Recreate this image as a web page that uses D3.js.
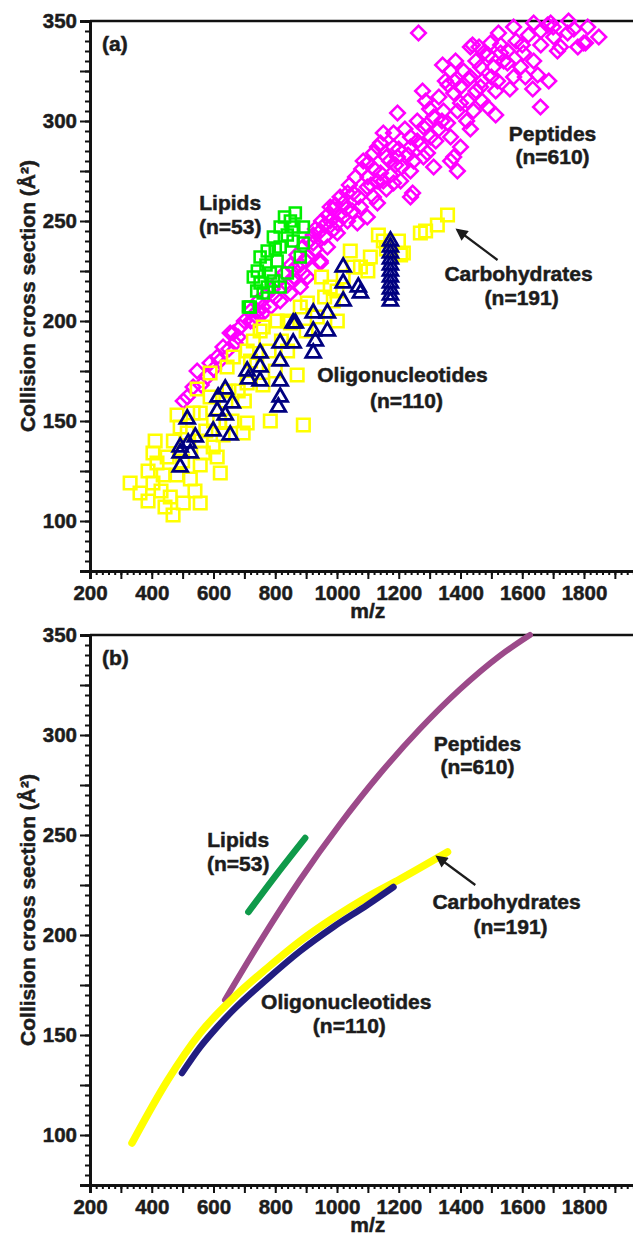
<!DOCTYPE html>
<html>
<head>
<meta charset="utf-8">
<script src="https://cdn.jsdelivr.net/npm/d3@7"></script>
<style>
  body { margin: 0; background: #fff; }
  svg { display: block; }
  text { font-family: "Liberation Sans", Arial, sans-serif; font-weight: bold; fill: #1c1c1c;
         stroke: #1c1c1c; stroke-width: 0.5px; }
</style>
</head>
<body>
<svg id="chart" width="633" height="1236"></svg>
<script>
// ---- panel (a) scatter data: [m/z, CCS] ----
const peptides = [
  [1264,344],[1432,337],[1342,328],[1384,330],[1368,325],[1351,320],[1277,315],[1287,310],[1196,304],[1659,307],
  [1634,316],[1686,320],[1650,323],[1523,344],[1572,347],[1637,349],[1692,349],[1750,350],[1812,347],[1848,342],
  [1799,339],[1724,337],[1702,342],[1747,344],[1497,339],[1552,335],[1604,334],[1637,330],[1475,334],[1465,327],
  [1507,327],[1552,329],[1595,327],[1520,320],[1572,322],[1432,322],[1400,317],[1465,317],[1514,315],[1423,310],
  [1378,314],[1345,305],[1400,309],[1442,305],[1488,307],[1514,303],[1313,302],[1280,297],[1358,299],[1432,296],
  [1238,292],[1303,292],[1368,292],[1150,294],[1183,287],[1400,287],[1293,284],[1368,280],[1248,280],
  [1085,280],[1183,294],[1131,287],[1196,282],[1238,287],[1280,282],[1313,277],[1378,282],[1390,275],[1238,275],
  [1206,270],[1150,270],[1098,267],[1053,264],[1118,262],[1245,264],[1173,273],[1020,259],[988,256],[1076,257],
  [978,250],[946,245],[1034,250],[1001,244],[923,239],[969,237],[904,232],[946,229],[904,222],[881,217],
  [1141,274],[1183,269],[1238,262],[1034,264],[978,257],[1001,249],[1066,249],[1098,252],[1131,259],[923,243],
  [946,230],[891,224],[858,220],[849,214],[816,210],[784,207],[761,204],[729,200],[687,197],[654,194],
  [1118,284],[1141,289],[742,205],[664,194],[631,187],[612,182],[589,179],[547,175],[534,167],[515,162],[502,160],
  [700,200],[720,205],[745,210],[770,213],[790,216],[810,220],[830,224],[850,228],[870,233],[890,237],
  [910,240],[930,246],[950,250],[970,253],[995,258],[1010,262],[1040,268],[1060,272],[1080,276],[1100,279],
  [1120,276],[1160,282],[1200,286],[1220,296],[1260,300],[1300,306],[1330,312],[1360,318],[1410,325],[1450,330],
  [1490,333],[1530,338],[1580,340],[1620,343],[1660,345],[1700,347],[1540,330],[1470,320],[1330,296],[1260,290],
  [1190,278],[1110,268],[1050,255],[990,246],[930,236],[880,228],[840,218],[800,212],[760,207],[720,200],
  [680,192],[650,186],[620,180],[580,172],[560,168],[600,176],[670,189],[740,202],[860,226],[960,242],
  [1030,256],[1130,270],[1230,283],[1320,290],[1420,300],[1470,310],[1560,316],[1610,322],[1682,348],[1767,346],
  [1714,335],[1530,334],[1439,338],[1426,321],[1805,339],
  [1020,252],[1070,262],[1170,280],[1210,277],[1270,288],[1340,300],[1390,305],[1450,315],[1500,322],[1600,338],
  [960,248],[900,230],[860,222],[1100,272],[1160,266],[1290,298],[1380,320],[1460,337],[1660,338],[1780,337]
];
const carbohydrates = [
  [330,119],[362,114],[388,110],[404,119],[460,112],[469,103],[502,109],[557,109],[443,107],[411,140],
  [450,132],[417,129],[404,134],[388,125],[437,123],[482,123],[525,121],[557,128],[622,124],[599,137],
  [612,132],[567,134],[482,153],[492,147],[557,154],[547,166],[589,174],[644,177],[589,162],[709,149],
  [784,150],[891,148],[871,173],[709,169],[751,195],[709,185],[664,182],[806,200],[849,199],[881,207],
  [515,144],[534,154],[631,143],[696,144],[1134,243],[1199,240],[1043,235],[1108,232],[1215,234],[1076,227],
  [978,217],[904,209],[988,210],[936,202],[839,200],[761,197],[1001,200],[1270,244],[1287,245],[1325,248],
  [1358,253],[1206,233],[1053,227],[640,160],[660,150],[680,165],[600,150],[575,145],[740,178],[780,185],
  [820,190],[760,168],[950,222],[1020,222],[1160,236],[729,190],
  [560,140],[620,150],[650,165],[700,160],[720,180],[800,175],[840,185],[900,195],[960,212],[1000,215],
  [1100,225],[1150,240],[470,140],[430,115],[500,130],[540,115]
];
const lipids = [
  [865,254],[891,247],[891,239],[881,232],[839,224],[816,217],[761,214],[713,207],[729,222],[751,232],
  [794,242],[816,247],[849,250],[774,235],[806,230],[816,237],[784,224],[751,219],[774,217],[839,243],
  [858,240],[742,225],[794,220],[719,207],[860,247],[830,252],[800,236],[770,228],[740,215]
];
const oligonucleotides = [
  [1173,240],[1173,237],[1173,234],[1173,231],[1173,228],[1173,225],[1173,222],[1173,219],[1173,216],[1173,213],
  [1173,210],[1020,227],[1020,219],[1069,217],[1020,210],[1076,214],[923,204],[969,204],[858,199],[923,195],
  [969,195],[930,190],[923,184],[865,199],[858,189],[816,189],[816,180],[816,170],[816,162],[810,157],
  [751,184],[751,177],[709,175],[751,170],[713,171],[638,166],[615,162],[661,159],[612,155],[638,153],
  [599,145],[654,143],[515,151],[541,142],[518,139],[492,137],[492,134],[492,127],[525,134]
];

// ---- panel (b) trend lines ----
const pepTrend  = [[637,167.5],[751,196.7],[880,227.5],[1010,255.5],[1139,280.6],[1269,303.1],[1398,322.8],[1528,339.7],[1625,350]];
const carbTrend = [[336,96],[450,127],[557,151],[664,168.5],[774,183.5],[881,197],[988,208.5],[1098,219],[1205,228],[1358,241.5]];
const oligoTrend = [[498,131],[557,144],[612,154],[664,162.5],[774,178],[881,192],[988,204],[1098,215],[1183,224]];
const lipidTrend = [[713,211.5],[803,230],[897,248.5]];

// ---- axis ticks ----
const xMajor = d3.range(200, 2000, 200);
const xMid = d3.range(300, 2000, 200);
const xMinor = d3.range(200, 2001, 20);
const yMajor = d3.range(100, 351, 50);
const yMid = d3.range(75, 351, 50);
const yMinor = d3.range(75, 351, 5);

// ---- labels [text, m/z, CCS] ----
const labelsA = [
  ["Lipids", 654, 255.5], ["(n=53)", 654, 243.5],
  ["Peptides", 1698, 290], ["(n=610)", 1698, 278.5],
  ["Carbohydrates", 1588, 220], ["(n=191)", 1598, 208],
  ["Oligonucleotides", 1212, 169.5], ["(n=110)", 1225, 156.5]
];
const labelsB = [
  ["Lipids", 680, 244], ["(n=53)", 680, 232],
  ["Peptides", 1455, 292], ["(n=610)", 1455, 280.5],
  ["Carbohydrates", 1549, 213], ["(n=191)", 1562, 200.5],
  ["Oligonucleotides", 1030, 163], ["(n=110)", 1040, 151]
];
const arrowA = [[1520, 230.5], [1390, 245.5]];
const arrowB = [[1448, 225], [1325, 239]];

const svg = d3.select("#chart");
const x = d3.scaleLinear().domain([200, 2000]).range([90, 645.75]);

svg.append("defs").append("marker")
  .attr("id", "head").attr("viewBox", "0 0 10 10")
  .attr("refX", 8).attr("refY", 5)
  .attr("markerWidth", 6.5).attr("markerHeight", 5.5)
  .attr("markerUnits", "strokeWidth").attr("orient", "auto")
  .append("path").attr("d", "M0,0L10,5L0,10Z").attr("fill", "#1c1c1c");

function frame(y, tag) {
  const g = svg.append("g");
  // box top / right
  g.append("path")
    .attr("d", `M${x(200)},${y(350)}H${x(2000)}V${y(75)}`)
    .attr("fill", "none").attr("stroke", "#111").attr("stroke-width", 2.5);

  const xa = (vals, size, labels) => g.append("g")
    .attr("transform", `translate(0,${y(75)})`)
    .call(d3.axisBottom(x).tickValues(vals).tickSize(size).tickPadding(6)
      .tickFormat(labels ? d3.format("d") : ""));
  const ya = (vals, size, labels) => g.append("g")
    .attr("transform", `translate(${x(200)},0)`)
    .call(d3.axisLeft(y).tickValues(vals).tickSize(size).tickPadding(3)
      .tickFormat(labels ? d3.format("d") : ""));

  [xa(xMinor, 4, false), xa(xMid, 8, false), xa(xMajor, 8, true),
   ya(yMinor, 5, false), ya(yMid, 10, false), ya(yMajor, 10, true)].forEach(a => {
    a.selectAll("line").attr("stroke", "#111").attr("stroke-width", 2);
    a.select(".domain").attr("stroke", "#111").attr("stroke-width", 2.5);
    a.selectAll("text").attr("font-size", 20.5).attr("fill", "#1c1c1c")
      .attr("font-family", "Liberation Sans, Arial, sans-serif").attr("font-weight", "bold");
    a.attr("font-family", null).attr("font-size", null);
  });

  g.append("text").attr("x", x(239)).attr("y", y(335)).attr("font-size", 21).text(tag);
  g.append("text")
    .attr("transform", `translate(35,${(y(75) + y(350)) / 2}) rotate(-90)`)
    .attr("text-anchor", "middle").attr("font-size", 21)
    .text("Collision cross section (Å²)");
  g.append("text").attr("x", x(1100)).attr("y", y(75) + 47)
    .attr("text-anchor", "middle").attr("font-size", 21).text("m/z");
  return g;
}

function labels(g, y, list, arrow) {
  g.selectAll(null).data(list).join("text")
    .attr("x", d => x(d[1])).attr("y", d => y(d[2]))
    .attr("text-anchor", "middle").attr("font-size", 21).text(d => d[0]);
  g.append("line")
    .attr("x1", x(arrow[0][0])).attr("y1", y(arrow[0][1]))
    .attr("x2", x(arrow[1][0])).attr("y2", y(arrow[1][1]))
    .attr("stroke", "#1c1c1c").attr("stroke-width", 2.2).attr("marker-end", "url(#head)");
}

// ---- panel (a) ----
const yA = d3.scaleLinear().domain([75, 350]).range([571, 21]);
const gA = frame(yA, "(a)");
const pts = gA.append("g").attr("fill", "none").attr("stroke-width", 2.6);
const sq = (s) => d3.symbol(d3.symbolSquare, s * s);
pts.selectAll(".pep").data(peptides).join("path")
  .attr("d", sq(10.3)())
  .attr("transform", d => `translate(${x(d[0])},${yA(d[1])}) rotate(45)`)
  .attr("stroke", "#ff00ff");
pts.selectAll(".carb").data(carbohydrates).join("path")
  .attr("d", sq(12.5)())
  .attr("transform", d => `translate(${x(d[0])},${yA(d[1])})`)
  .attr("stroke", "#ffff00");
pts.selectAll(".lip").data(lipids).join("path")
  .attr("d", sq(11)())
  .attr("transform", d => `translate(${x(d[0])},${yA(d[1])})`)
  .attr("stroke", "#00ee00");
pts.selectAll(".oli").data(oligonucleotides).join("path")
  .attr("d", d3.symbol(d3.symbolTriangle, 95)())
  .attr("transform", d => `translate(${x(d[0])},${yA(d[1])})`)
  .attr("stroke", "#000080").attr("stroke-width", 2.8);
labels(gA, yA, labelsA, arrowA);

// ---- panel (b) ----
const yB = d3.scaleLinear().domain([75, 350]).range([1185, 635]);
const gB = frame(yB, "(b)");
const line = d3.line().x(d => x(d[0])).y(d => yB(d[1])).curve(d3.curveMonotoneX);
[[pepTrend, "#9c4a8a", 6], [lipidTrend, "#0f9a4a", 6.5], [carbTrend, "#ffff00", 7.5], [oligoTrend, "#221d80", 6.5]]
  .forEach(([d, c, w]) => gB.append("path").datum(d).attr("d", line)
    .attr("fill", "none").attr("stroke", c).attr("stroke-width", w).attr("stroke-linecap", "round"));
labels(gB, yB, labelsB, arrowB);
</script>
</body>
</html>
